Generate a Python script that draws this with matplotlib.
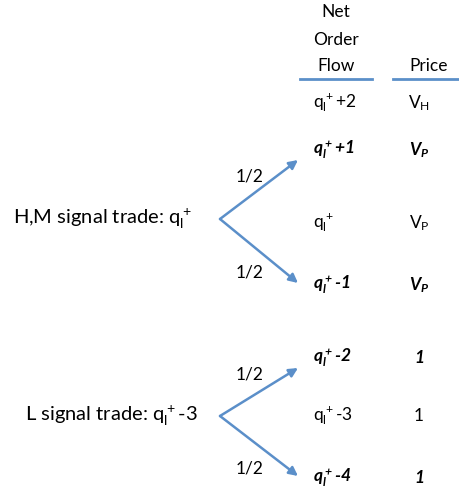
import matplotlib.pyplot as plt

plt.rcParams['font.family'] = ['Lato', 'DejaVu Sans']

# outcomes of each signal trade: net order flow and resulting price
flows = [r'$\mathregular{q_l^+}$+2', r'$\mathregular{q_l^+}$+1', r'$\mathregular{q_l^+}$',
         r'$\mathregular{q_l^+}$-1', r'$\mathregular{q_l^+}$-2', r'$\mathregular{q_l^+}$-3',
         r'$\mathregular{q_l^+}$-4']
prices = [r'$\mathregular{V_H}$', r'$\mathregular{V_P}$', r'$\mathregular{V_P}$',
          r'$\mathregular{V_P}$', '1', '1', '1']
reached = [False, True, False, True, True, False, True]

signals = [r'H,M signal trade: $\mathregular{q_l^+}$', r'L signal trade: $\mathregular{q_l^+}$-3']
probs = ['1/2', '1/2']
branches = [(1, 3), (4, 6)]  # rows each signal can lead to
header = ['Net', 'Order', 'Flow']

# layout (pixels)
row_y = [103, 150, 223, 285, 358, 416, 478]
head_y = [12, 40, 66]
sig_y = [219, 416]
sig_x = [13, 25]
blue = '#5b8fc9'

fig = plt.figure(figsize=(4.6, 4.93), dpi=100)
ax = fig.add_axes([0, 0, 1, 1])
ax.set_xlim(0, 460)
ax.set_ylim(493, 0)
ax.axis('off')

fs = 12.5
for h, hy in zip(header, head_y):
    ax.text(336, hy, h, ha='center', va='center', fontsize=fs)
ax.text(429, 66, 'Price', ha='center', va='center', fontsize=fs)
ax.plot([300, 372], [79, 79], color=blue, lw=2)
ax.plot([393, 460], [79, 79], color=blue, lw=2)

for y, f, p, b in zip(row_y, flows, prices, reached):
    kw = dict(fontweight='bold', style='italic') if b else {}
    ax.text(313, y, f, ha='left', va='center', fontsize=fs, **kw)
    ax.text(419, y, p, ha='center', va='center', fontsize=fs, **kw)

for s, sy, sx, pr, (a, c) in zip(signals, sig_y, sig_x, probs, branches):
    ax.text(sx, sy, s, ha='left', va='center', fontsize=14.5)
    for r in (a, c):
        ax.annotate('', xy=(298, row_y[r] + (10 if r == a else -2)), xytext=(220, sy),
                    arrowprops=dict(arrowstyle='-|>', color=blue, lw=1.8,
                                    mutation_scale=13, shrinkA=0, shrinkB=0))
    ax.text(250, sy - 42, pr, ha='center', va='center', fontsize=fs)
    ax.text(250, sy + 53, pr, ha='center', va='center', fontsize=fs)

fig.savefig('out.png', dpi=100)
